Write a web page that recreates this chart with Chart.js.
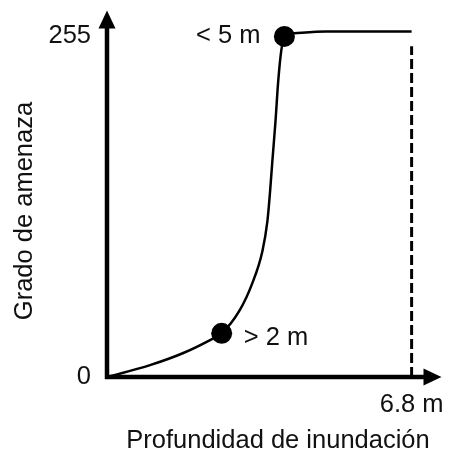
<!DOCTYPE html>
<html>
<head>
<meta charset="utf-8">
<script src="https://cdn.jsdelivr.net/npm/chart.js@4"></script>
<style>
  html, body { margin: 0; padding: 0; background: #fff; }
  #wrap { width: 452px; height: 466px; }
</style>
</head>
<body>
<div id="wrap"><canvas id="chart" width="452" height="466"></canvas></div>
<script>
// curve (depth in m, hazard grade)
const depth  = [0, 0.96, 1.69, 2.29, 2.56, 2.96, 3.24, 3.47, 3.58, 3.64, 3.69, 3.76, 3.82, 3.89, 3.96, 4.18, 4.89, 6.8];
const hazard = [0, 8.9, 17.8, 27.5, 32.7, 49.8, 69.9, 94.4, 116.5, 138.8, 161.1, 190.8, 220.6, 244.4, 255, 257.3, 258.7, 258.7];

// highlighted points and their labels
const markX = [2.56, 3.96];
const markY = [32.7, 255];
const markLabels = ['> 2 m', '< 5 m'];

// dashed limit line
const limitX = [6.8, 6.8];
const limitY = [0, 247.6];

// tick labels
const yTicks = [0, 255];
const xTicks = [6.8];
const xTickLabels = ['6.8 m'];

const FONT = '"Liberation Sans", Arial, sans-serif';
const FSIZE = 25.5;
const INK = '#111';

const toPts = (xs, ys) => xs.map((x, i) => ({ x: x, y: ys[i] }));

// drop the automatic label overflow padding so the plot area stays put
const noPad = s => { s.paddingTop = 0; s.paddingBottom = 0; s.paddingLeft = 0; s.paddingRight = 0; };

// axes with arrow heads, marker labels and axis titles
const decor = {
    id: 'decor',
    afterDatasetsDraw(chart) {
        const { ctx, chartArea: a, scales } = chart;
        const x0 = scales.x.getPixelForValue(0);
        const y0 = scales.y.getPixelForValue(0);
        ctx.save();
        ctx.strokeStyle = '#000';
        ctx.fillStyle = '#000';
        ctx.lineWidth = 4.5;
        // y axis
        ctx.beginPath();
        ctx.moveTo(x0, y0 + 2);
        ctx.lineTo(x0, a.top + 16);
        ctx.stroke();
        ctx.beginPath();
        ctx.moveTo(x0, a.top);
        ctx.lineTo(x0 - 8.5, a.top + 18);
        ctx.lineTo(x0 + 8.5, a.top + 18);
        ctx.closePath();
        ctx.fill();
        // x axis
        ctx.beginPath();
        ctx.moveTo(x0 - 2, y0);
        ctx.lineTo(a.right - 16, y0);
        ctx.stroke();
        ctx.beginPath();
        ctx.moveTo(a.right, y0);
        ctx.lineTo(a.right - 18, y0 - 8.5);
        ctx.lineTo(a.right - 18, y0 + 8.5);
        ctx.closePath();
        ctx.fill();

        // marker labels
        ctx.fillStyle = INK;
        ctx.font = FSIZE + 'px ' + FONT;
        ctx.textBaseline = 'middle';
        markLabels.forEach((t, i) => {
            const px = scales.x.getPixelForValue(markX[i]);
            const py = scales.y.getPixelForValue(markY[i]);
            if (i === 0) {
                ctx.textAlign = 'left';
                ctx.fillText(t, px + 22, py + 5);
            } else {
                ctx.textAlign = 'right';
                ctx.fillText(t, px - 24, py);
            }
        });

        // axis titles
        ctx.textAlign = 'center';
        ctx.fillText('Profundidad de inundación', 278, 441);
        ctx.translate(25, 211);
        ctx.rotate(-Math.PI / 2);
        ctx.fillText('Grado de amenaza', 0, 0);
        ctx.restore();
    }
};

new Chart(document.getElementById('chart').getContext('2d'), {
    type: 'scatter',
    data: {
        datasets: [
            {
                label: 'curve',
                data: toPts(depth, hazard),
                showLine: true,
                borderColor: '#000',
                borderWidth: 2.5,
                pointRadius: 0,
                cubicInterpolationMode: 'monotone'
            },
            {
                label: 'limit',
                data: toPts(limitX, limitY),
                showLine: true,
                borderColor: '#000',
                borderWidth: 3,
                borderDash: [10, 4],
                pointRadius: 0
            },
            {
                label: 'marks',
                data: toPts(markX, markY),
                pointRadius: 10.5,
                pointBackgroundColor: '#000',
                pointBorderWidth: 0
            }
        ]
    },
    options: {
        responsive: false,
        animation: false,
        layout: { padding: { top: 6, right: 9, left: 0, bottom: 0 } },
        plugins: {
            legend: { display: false },
            tooltip: { enabled: false }
        },
        scales: {
            x: {
                type: 'linear',
                min: 0,
                max: 7.467,
                grid: { display: false, drawTicks: false },
                border: { display: false },
                afterBuildTicks: s => { s.ticks = xTicks.map(v => ({ value: v })); },
                afterFit: s => { s.height = 89; noPad(s); },
                ticks: {
                    color: INK,
                    padding: 13,
                    font: { family: FONT, size: FSIZE },
                    callback: v => xTickLabels[xTicks.indexOf(v)]
                }
            },
            y: {
                type: 'linear',
                min: 0,
                max: 274.4,
                grid: { display: false, drawTicks: false },
                border: { display: false },
                afterBuildTicks: s => { s.ticks = yTicks.map(v => ({ value: v })); },
                afterFit: s => { s.width = 107; noPad(s); },
                ticks: {
                    color: INK,
                    padding: 16,
                    font: { family: FONT, size: FSIZE },
                    callback: v => String(v)
                }
            }
        }
    },
    plugins: [decor]
});
</script>
</body>
</html>
